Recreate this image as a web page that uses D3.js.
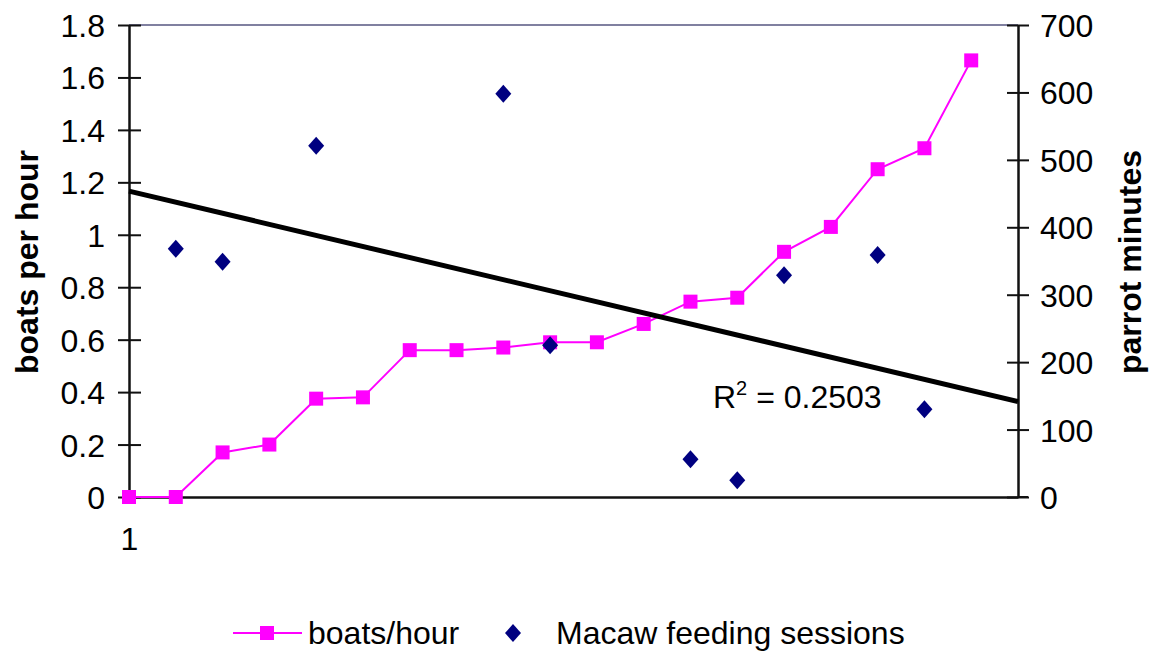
<!DOCTYPE html>
<html><head><meta charset="utf-8">
<script src="https://cdn.jsdelivr.net/npm/d3@7"></script>
<style>body{margin:0;background:#fff}text{font-family:"Liberation Sans",Arial,sans-serif}</style>
</head><body><svg id="c" width="1153" height="651"></svg>
<script>
const xCats = [1,2,3,4,5,6,7,8,9,10,11,12,13,14,15,16,17,18,19];
const boats = [0,0,0.17,0.2,0.375,0.38,0.56,0.56,0.57,0.59,0.59,0.66,0.745,0.76,0.935,1.03,1.25,1.33,1.665];
const macawX = [2,3,5,9,10,13,14,15,17,18];
const macaw = [368,349,521,598,225,56,25,329,359,130];
const leftTicks = [0,0.2,0.4,0.6,0.8,1,1.2,1.4,1.6,1.8];
const rightTicks = [0,100,200,300,400,500,600,700];
const xTickLabels = ["1"];

const svg = d3.select("#c");
const L=129, R=1018, T=25, B=497;
const x = d3.scaleLinear().domain([1,20]).range([L,R]);
const yL = d3.scaleLinear().domain([0,1.8]).range([B,T]);
const yR = d3.scaleLinear().domain([0,700]).range([B,T]);
const fs = 32;
const diamondPath = "M0,-9L8,0L0,9L-8,0Z";

// top border
svg.append("line").attr("x1",L).attr("x2",R).attr("y1",T).attr("y2",T).attr("stroke","#8080a0").attr("stroke-width",2);

// axes
const gl = svg.append("g").attr("transform",`translate(${L},0)`)
  .call(d3.axisLeft(yL).tickValues(leftTicks).tickSize(11).tickSizeOuter(0).tickPadding(13).tickFormat(d=>String(d)));
gl.selectAll(".tick line").attr("x2",12).attr("x1",-11);
const gr = svg.append("g").attr("transform",`translate(${R},0)`)
  .call(d3.axisRight(yR).tickValues(rightTicks).tickSize(11).tickSizeOuter(0).tickPadding(11));
gr.selectAll(".tick line").attr("x1",-11);
const gx = svg.append("g").attr("transform",`translate(0,${B})`)
  .call(d3.axisBottom(x).tickValues([1]).tickSize(6).tickSizeOuter(0).tickPadding(24).tickFormat((d,i)=>xTickLabels[i]));
svg.append("line").attr("x1",R).attr("x2",R+10).attr("y1",B).attr("y2",B).attr("stroke","#111").attr("stroke-width",2);
[gl,gr,gx].forEach(g=>{
  g.selectAll("path.domain").attr("stroke","#111").attr("stroke-width",2.5);
  g.selectAll(".tick line").attr("stroke","#111").attr("stroke-width",2);
  g.selectAll("text").attr("font-size",fs).attr("fill","#000").style("font-family","Liberation Sans, Arial, sans-serif");
});
gl.selectAll(".tick text").attr("dy","0.36em");
gr.selectAll(".tick text").attr("dy","0.36em");

// titles
svg.append("text").attr("transform",`translate(38,262) rotate(-90)`).attr("text-anchor","middle")
  .attr("font-size",fs).attr("font-weight","bold").text("boats per hour");
svg.append("text").attr("transform",`translate(1141,262) rotate(-90)`).attr("text-anchor","middle")
  .attr("font-size",fs).attr("font-weight","bold").text("parrot minutes");

// trend line (linear regression of macaw on x)
const mx = d3.mean(macawX), my = d3.mean(macaw);
let sxy=0,sxx=0;
macawX.forEach((v,i)=>{sxy+=(v-mx)*(macaw[i]-my);sxx+=(v-mx)*(v-mx);});
const slope=sxy/sxx, icpt=my-slope*mx;

// boats line
const line = d3.line().x((d,i)=>x(xCats[i])).y(d=>yL(d));
svg.append("path").datum(boats).attr("d",line).attr("fill","none").attr("stroke","#ff00ff").attr("stroke-width",2);
svg.selectAll("rect.b").data(boats).enter().append("rect")
  .attr("x",(d,i)=>x(xCats[i])-7).attr("y",d=>yL(d)-7).attr("width",14).attr("height",14).attr("fill","#ff00ff");

svg.append("line").attr("x1",x(1)).attr("y1",yR(icpt+slope*1)).attr("x2",x(20)).attr("y2",yR(icpt+slope*20))
  .attr("stroke","#000").attr("stroke-width",5);

// macaw diamonds
svg.selectAll("path.m").data(macaw).enter().append("path")
  .attr("d", diamondPath)
  .attr("transform",(d,i)=>`translate(${x(macawX[i])},${yR(d)})`).attr("fill","#000080");

// R2 label
const rt = svg.append("text").attr("x",713).attr("y",408).attr("font-size",fs);
rt.append("tspan").text("R");
rt.append("tspan").attr("dy",-13).attr("font-size",20).text("2");
rt.append("tspan").attr("dy",13).text(" = 0.2503");

// legend
const ly=633;
svg.append("line").attr("x1",233).attr("x2",302).attr("y1",ly).attr("y2",ly).attr("stroke","#ff00ff").attr("stroke-width",2);
svg.append("rect").attr("x",260).attr("y",ly-7).attr("width",14).attr("height",14).attr("fill","#ff00ff");
svg.append("text").attr("x",308).attr("y",ly+11).attr("font-size",fs).text("boats/hour");
svg.append("path").attr("d",diamondPath).attr("transform",`translate(513,${ly})`).attr("fill","#000080");
svg.append("text").attr("x",556).attr("y",ly+11).attr("font-size",fs).text("Macaw feeding sessions");
</script></body></html>
